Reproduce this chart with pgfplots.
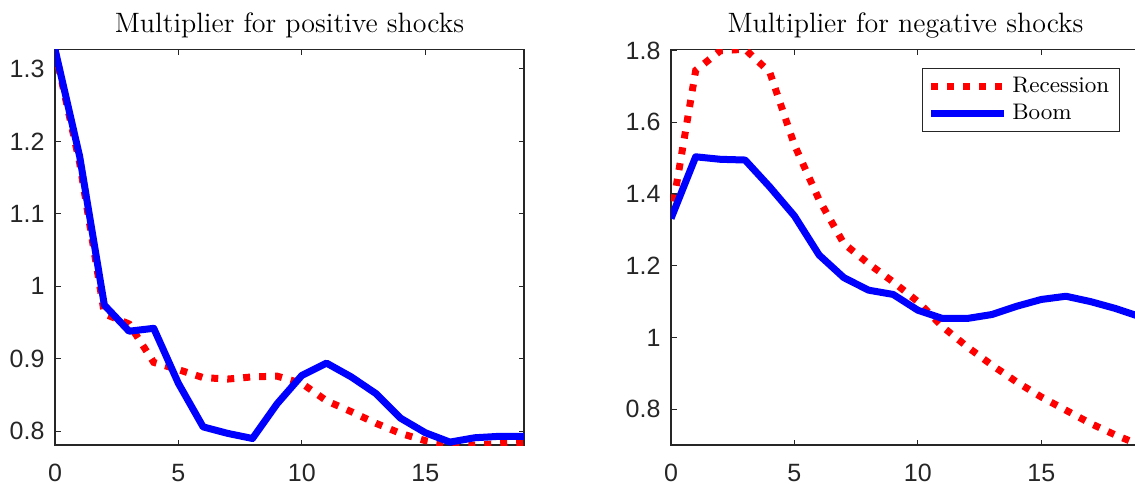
\documentclass[border=0pt]{standalone}
\usepackage{fontspec}
\setsansfont{Liberation Sans}
\usepackage{pgfplots}
\pgfplotsset{compat=1.18}
\definecolor{axgray}{rgb}{0.15,0.15,0.15}

\pgfplotsset{
  mlab/.style={
    scale only axis, width=187.6pt, height=158.3pt,
    xmin=0, xmax=19, xtick={0,5,10,15},
    tick align=inside, major tick length=2.2pt,
    axis line style={axgray, line width=0.5pt},
    every tick/.style={axgray, line width=0.5pt},
    ticklabel style={font=\sffamily\fontsize{10}{12}\selectfont, text=axgray},
    xticklabel style={yshift=-4pt},
    yticklabel style={xshift=-0.7pt},
    /pgf/number format/assume math mode=true,
    title style={at={(0.5,1)}, anchor=base, yshift=0.6pt, font=\fontsize{11.2}{13}\selectfont},
  },
  rec/.style={red, line width=2.8pt, dash pattern=on 2.8pt off 3.6pt, line cap=butt},
  boom/.style={blue, line width=2.8pt, line join=round},
}

\begin{document}
\begin{tikzpicture}
\path[use as bounding box] (0,0) rectangle (454pt,-193.2pt);

% left: positive shocks
\begin{axis}[mlab, at={(22pt,-178pt)}, anchor=south west,
  ymin=0.781, ymax=1.327, ytick={0.8,0.9,1,1.1,1.2,1.3},
  title={Multiplier for positive shocks}]
\addplot[rec] coordinates {(0,1.325) (1,1.170) (2,0.962) (3,0.948) (4,0.895) (5,0.885)
  (6,0.874) (7,0.872) (8,0.875) (9,0.876) (10,0.866) (11,0.842) (12,0.827) (13,0.811)
  (14,0.797) (15,0.787) (16,0.781) (17,0.781) (18,0.783) (19,0.784)};
\addplot[boom] coordinates {(0,1.327) (1,1.179) (2,0.974) (3,0.938) (4,0.942) (5,0.866)
  (6,0.806) (7,0.797) (8,0.790) (9,0.838) (10,0.877) (11,0.894) (12,0.875) (13,0.852)
  (14,0.818) (15,0.798) (16,0.785) (17,0.791) (18,0.793) (19,0.793)};
\end{axis}

% right: negative shocks
\begin{axis}[mlab, at={(268.4pt,-178pt)}, anchor=south west,
  ymin=0.7, ymax=1.804, ytick={0.8,1,1.2,1.4,1.6,1.8},
  title={Multiplier for negative shocks},
  legend style={at={(rel axis cs:0.957,0.9535)}, anchor=north east,
    draw=axgray, line width=0.5pt, font=\fontsize{9}{11}\selectfont,
    inner xsep=2pt, inner ysep=1.5pt, row sep=-1pt},
  legend cell align=left,
  legend image code/.code={\draw[#1] (0pt,0pt) -- (29pt,0pt);}]
\addplot[rec] coordinates {(0,1.335) (1,1.745) (2,1.800) (3,1.804) (4,1.740) (5,1.537)
  (6,1.384) (7,1.262) (8,1.206) (9,1.155) (10,1.100) (11,1.030) (12,0.974) (13,0.923)
  (14,0.876) (15,0.834) (16,0.797) (17,0.760) (18,0.728) (19,0.700)};
\addlegendentry{Recession}
\addplot[boom] coordinates {(0,1.332) (1,1.504) (2,1.497) (3,1.495) (4,1.420) (5,1.339)
  (6,1.230) (7,1.167) (8,1.132) (9,1.120) (10,1.076) (11,1.053) (12,1.053) (13,1.064)
  (14,1.087) (15,1.106) (16,1.115) (17,1.100) (18,1.081) (19,1.058)};
\addlegendentry{Boom}
\end{axis}
\end{tikzpicture}
\end{document}
